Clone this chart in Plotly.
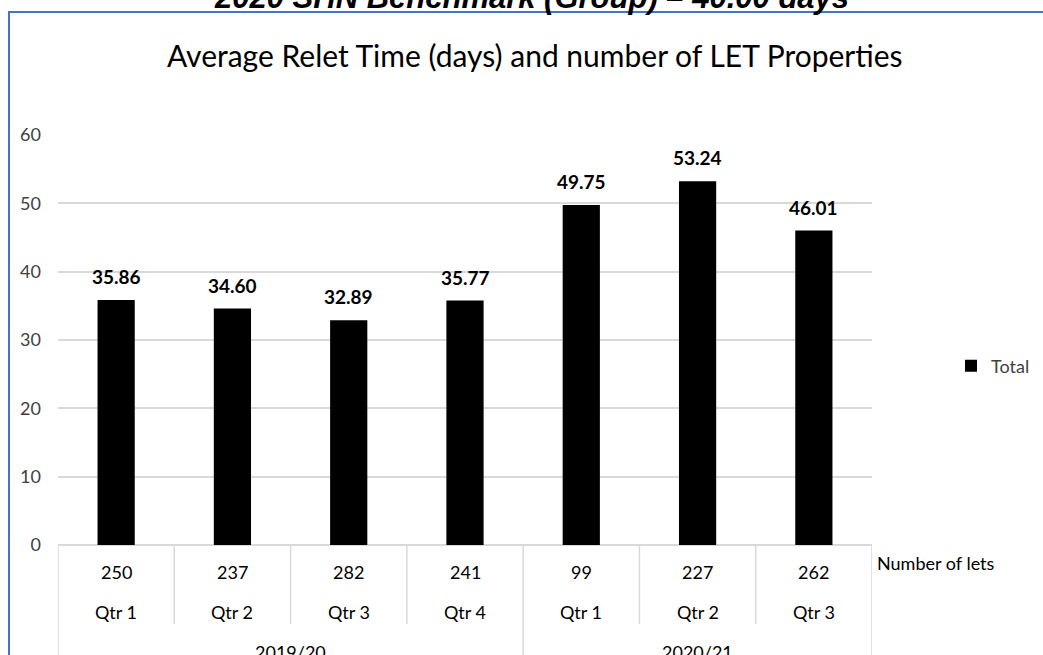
import plotly.graph_objects as go

quarters = ["Qtr 1", "Qtr 2", "Qtr 3", "Qtr 4", "Qtr 1", "Qtr 2", "Qtr 3"]
years = ["2019/20", "2020/21"]
year_spans = [(0, 3), (4, 6)]
num_lets = [250, 237, 282, 241, 99, 227, 262]
relet_days = [35.86, 34.60, 32.89, 35.77, 49.75, 53.24, 46.01]
y_ticks = [0, 10, 20, 30, 40, 50, 60]

cats = list(range(len(quarters)))
FONT = "Lato, Open Sans, sans-serif"
GRID = "#D9D9D9"
TXT = "#404040"

# pixel helpers -> paper coords (plot area: x 58..872, y 135..545)
PL, PR, PT, PB = 58, 872, 135, 545
def px(x):
    return (x - PL) / (PR - PL)
def py(y):
    return (PB - y) / (PB - PT)

fig = go.Figure()
fig.add_trace(go.Bar(
    x=cats, y=relet_days, name="Total",
    marker=dict(color="#000000", line=dict(width=0)),
    width=0.32,
))

annotations = []
for i, v in enumerate(relet_days):
    annotations.append(dict(x=i, y=v, xref="x", yref="y", text=f"<b>{v:.2f}</b>",
                            showarrow=False, yanchor="bottom", yshift=10,
                            font=dict(family=FONT, size=19, color="#000000")))
for i, n in enumerate(num_lets):
    annotations.append(dict(x=i, y=py(572), xref="x", yref="paper", text=str(n),
                            showarrow=False, yanchor="middle",
                            font=dict(family=FONT, size=18, color="#000000")))
for i, q in enumerate(quarters):
    annotations.append(dict(x=i, y=py(612), xref="x", yref="paper", text=q,
                            showarrow=False, yanchor="middle",
                            font=dict(family=FONT, size=18, color="#000000")))
for yr, (a, b) in zip(years, year_spans):
    annotations.append(dict(x=(a + b) / 2, y=py(652), xref="x", yref="paper", text=yr,
                            showarrow=False, yanchor="middle",
                            font=dict(family=FONT, size=18, color="#000000")))
annotations.append(dict(x=px(875), y=py(563), xref="paper", yref="paper",
                        text="Number of lets", showarrow=False, xanchor="left",
                        yanchor="middle", font=dict(family=FONT, size=18, color="#000000")))
annotations.append(dict(x=px(535), y=py(55), xref="paper", yref="paper",
                        text="Average Relet Time (days) and number of LET Properties",
                        showarrow=False, xanchor="center", yanchor="middle",
                        font=dict(family=FONT, size=30, color="#000000")))
annotations.append(dict(x=px(531), y=py(-2), xref="paper", yref="paper",
                        text="<b><i>2020 SHN Benchmark (Group) – 40.00 days</i></b>",
                        showarrow=False, xanchor="center", yanchor="middle",
                        font=dict(family="Liberation Sans, Arial, sans-serif", size=31, color="#000000")))

shapes = []
# outer chart border
shapes.append(dict(type="rect", xref="paper", yref="paper",
                   x0=px(9), x1=px(1060), y0=py(12), y1=py(680),
                   line=dict(color="#4472C4", width=2), fillcolor="rgba(0,0,0,0)", layer="below"))
# table vertical lines
for k in range(len(quarters) + 1):
    xb = k - 0.5
    outer = k in (0, 4, 7)
    shapes.append(dict(type="line", xref="x", yref="paper", x0=xb, x1=xb,
                       y0=0, y1=py(680) if outer else py(624),
                       line=dict(color=GRID, width=1.5)))

fig.update_layout(
    width=1043, height=655,
    margin=dict(l=PL, r=1043 - PR, t=PT, b=655 - PB, autoexpand=False),
    paper_bgcolor="white", plot_bgcolor="white",
    showlegend=True,
    legend=dict(x=px(951), y=py(366), xanchor="left", yanchor="middle",
                font=dict(family=FONT, size=18, color=TXT),
                itemwidth=30, bgcolor="rgba(0,0,0,0)"),
    annotations=annotations, shapes=shapes,
    xaxis=dict(range=[-0.5, 6.5], showticklabels=False, showgrid=False,
               zeroline=False, showline=False, ticks=""),
    yaxis=dict(range=[0, 60], tickvals=y_ticks, showgrid=True, gridcolor=GRID,
               gridwidth=1.5, zeroline=True, zerolinecolor=GRID, zerolinewidth=1.5,
               tickfont=dict(family=FONT, size=18, color=TXT), ticklabelstandoff=16,
               showline=False, ticks=""),
    bargap=0.66,
)

fig.write_html("out.html", config={"displayModeBar": False},
               post_script="document.body.style.margin='0';document.body.style.overflow='hidden';")
